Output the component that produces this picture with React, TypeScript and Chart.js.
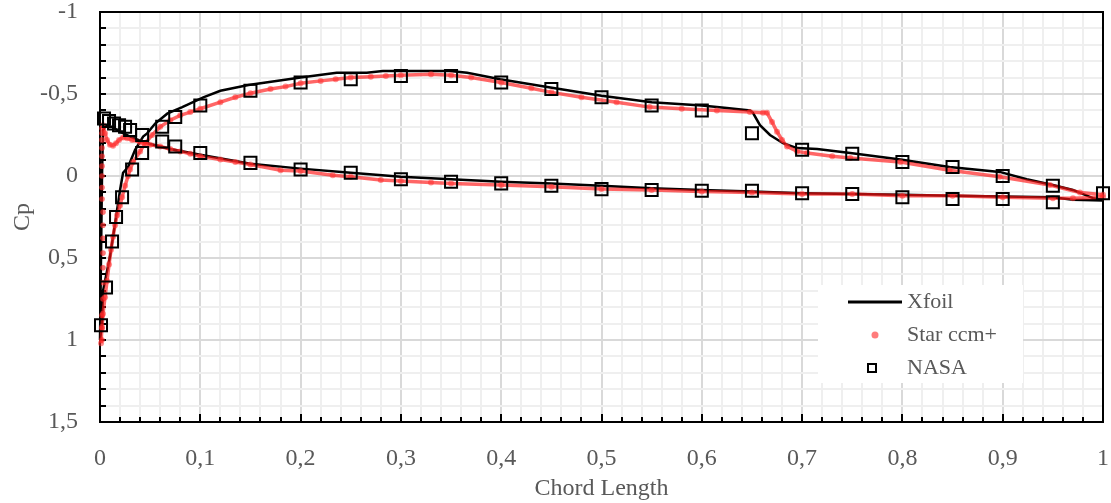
import React, { useEffect, useRef } from 'react';
import { Chart, registerables } from 'chart.js';

Chart.register(...registerables);

// ---------- Data ----------
// Xfoil upper branch (stagnation -> suction side -> TE)
const xfoilUpperX = [0.0, 0.002, 0.003, 0.010, 0.015, 0.020, 0.023, 0.028, 0.035, 0.043, 0.047, 0.055, 0.067, 0.082, 0.103, 0.120, 0.148, 0.200, 0.236, 0.266, 0.282, 0.349, 0.366, 0.399, 0.449, 0.500, 0.550, 0.600, 0.625, 0.648, 0.651, 0.658, 0.668, 0.681, 0.695, 0.715, 0.748, 0.798, 0.847, 0.897, 0.924, 0.950, 0.970, 0.990, 1.0];
const xfoilUpperCp = [1.0, 0.90, 0.70, 0.49, 0.29, 0.085, -0.02, -0.055, -0.16, -0.24, -0.26, -0.32, -0.38, -0.42, -0.48, -0.52, -0.555, -0.60, -0.63, -0.63, -0.64, -0.64, -0.63, -0.59, -0.54, -0.49, -0.45, -0.43, -0.415, -0.40, -0.385, -0.31, -0.25, -0.20, -0.17, -0.165, -0.14, -0.10, -0.055, -0.025, 0.02, 0.055, 0.085, 0.135, 0.146];
// Xfoil lower branch (stagnation -> pressure side -> TE)
const xfoilLowerX = [0.0, 0.001, 0.002, 0.003, 0.006, 0.012, 0.020, 0.030, 0.040, 0.050, 0.070, 0.100, 0.150, 0.200, 0.250, 0.300, 0.350, 0.400, 0.450, 0.500, 0.550, 0.600, 0.650, 0.700, 0.750, 0.800, 0.850, 0.900, 0.950, 0.970, 1.0];
const xfoilLowerCp = [1.0, 0.5, 0.0, -0.28, -0.31, -0.30, -0.27, -0.24, -0.215, -0.195, -0.165, -0.13, -0.075, -0.045, -0.02, 0.005, 0.02, 0.035, 0.045, 0.06, 0.075, 0.085, 0.095, 0.105, 0.11, 0.115, 0.12, 0.125, 0.13, 0.145, 0.15];

// Star ccm+ suction branch
const starUpperX = [0.001, 0.002, 0.003, 0.005, 0.007, 0.009, 0.011, 0.013, 0.015, 0.017, 0.020, 0.022, 0.025, 0.028, 0.030, 0.033, 0.040, 0.045, 0.052, 0.060, 0.070, 0.080, 0.090, 0.100, 0.120, 0.135, 0.150, 0.170, 0.185, 0.200, 0.220, 0.235, 0.250, 0.270, 0.285, 0.300, 0.330, 0.350, 0.370, 0.400, 0.430, 0.450, 0.480, 0.515, 0.548, 0.580, 0.615, 0.648, 0.661, 0.665, 0.670, 0.675, 0.680, 0.685, 0.695, 0.705, 0.730, 0.748, 0.798, 0.847, 0.897, 0.947, 0.977, 1.0];
const starUpperCp = [1.02, 0.92, 0.84, 0.74, 0.64, 0.54, 0.45, 0.37, 0.30, 0.24, 0.18, 0.13, 0.06, 0.0, -0.04, -0.085, -0.15, -0.20, -0.25, -0.30, -0.34, -0.37, -0.39, -0.41, -0.45, -0.48, -0.505, -0.53, -0.545, -0.565, -0.58, -0.59, -0.60, -0.605, -0.61, -0.615, -0.62, -0.615, -0.60, -0.57, -0.535, -0.51, -0.48, -0.45, -0.42, -0.41, -0.40, -0.39, -0.385, -0.385, -0.33, -0.27, -0.22, -0.18, -0.15, -0.14, -0.12, -0.11, -0.085, -0.035, 0.005, 0.055, 0.10, 0.115];
// Star ccm+ pressure branch
const starLowerX = [0.003, 0.005, 0.007, 0.010, 0.013, 0.016, 0.019, 0.023, 0.027, 0.032, 0.040, 0.050, 0.060, 0.070, 0.080, 0.090, 0.100, 0.120, 0.135, 0.150, 0.180, 0.200, 0.232, 0.250, 0.280, 0.300, 0.330, 0.350, 0.400, 0.450, 0.500, 0.550, 0.600, 0.650, 0.700, 0.750, 0.800, 0.850, 0.900, 0.950, 0.970, 1.0];
const starLowerCp = [-0.31, -0.26, -0.22, -0.19, -0.185, -0.20, -0.22, -0.235, -0.23, -0.22, -0.205, -0.19, -0.18, -0.165, -0.15, -0.135, -0.12, -0.10, -0.085, -0.07, -0.035, -0.03, -0.005, 0.005, 0.025, 0.03, 0.04, 0.045, 0.055, 0.065, 0.08, 0.085, 0.095, 0.10, 0.11, 0.11, 0.12, 0.12, 0.13, 0.135, 0.135, 0.13];
// Star ccm+ leading-edge cells (isolated dots)
const starLeX = [0.002, 0.002, 0.002, 0.003, 0.003, 0.003, 0.003, 0.003, 0.003, 0.003, 0.002, 0.002, 0.002, 0.002, 0.002, 0.002, 0.002, 0.002, 0.002];
const starLeCp = [1.0, 0.93, 0.85, 0.75, 0.65, 0.56, 0.47, 0.38, 0.30, 0.22, 0.14, 0.07, 0.0, -0.06, -0.12, -0.17, -0.22, -0.26, -0.29];

// NASA experiment
const nasaUpperX = [0.001, 0.006, 0.012, 0.016, 0.022, 0.032, 0.042, 0.062, 0.075, 0.10, 0.15, 0.20, 0.25, 0.30, 0.35, 0.40, 0.45, 0.50, 0.55, 0.60, 0.65, 0.70, 0.75, 0.80, 0.85, 0.90, 0.95, 1.0];
const nasaUpperCp = [0.91, 0.68, 0.40, 0.25, 0.13, -0.04, -0.14, -0.30, -0.36, -0.43, -0.52, -0.57, -0.59, -0.61, -0.61, -0.57, -0.53, -0.48, -0.43, -0.40, -0.26, -0.16, -0.135, -0.085, -0.055, 0.0, 0.06, 0.105];
const nasaLowerX = [0.004, 0.009, 0.014, 0.019, 0.025, 0.030, 0.042, 0.062, 0.075, 0.10, 0.15, 0.20, 0.25, 0.30, 0.35, 0.40, 0.45, 0.50, 0.55, 0.60, 0.65, 0.70, 0.75, 0.80, 0.85, 0.90, 0.95];
const nasaLowerCp = [-0.35, -0.335, -0.32, -0.31, -0.30, -0.28, -0.25, -0.21, -0.18, -0.14, -0.08, -0.04, -0.02, 0.02, 0.035, 0.045, 0.06, 0.08, 0.085, 0.09, 0.09, 0.105, 0.11, 0.13, 0.14, 0.14, 0.16];

// Tick labels
const xTickValues = [0, 0.1, 0.2, 0.3, 0.4, 0.5, 0.6, 0.7, 0.8, 0.9, 1];
const xTickLabels = ['0', '0,1', '0,2', '0,3', '0,4', '0,5', '0,6', '0,7', '0,8', '0,9', '1'];
const yTickValues = [-1, -0.5, 0, 0.5, 1, 1.5];
const yTickLabels = ['-1', '-0,5', '0', '0,5', '1', '1,5'];

const legendLabels = ['Xfoil', 'Star ccm+', 'NASA'];
const xTitle = 'Chord Length';
const yTitle = 'Cp';

// ---------- helpers ----------
const pts = (xs: number[], ys: number[]) => xs.map((x, i) => ({ x, y: ys[i] }));
const findLabel = (v: number, vals: number[], labels: string[]) => {
  const i = vals.findIndex((t) => Math.abs(t - v) < 1e-6);
  return i >= 0 ? labels[i] : '';
};
const isMultiple = (v: number, step: number) => {
  const r = v / step;
  return Math.abs(r - Math.round(r)) < 1e-6;
};

const FONT = "'Liberation Serif', 'Times New Roman', serif";
const GRAY = '#595959';
const RED_PT = 'rgba(255, 50, 50, 0.55)';
const RED_LN = 'rgba(255, 20, 20, 0.65)';

const decorPlugin = {
  id: 'decor',
  beforeDatasetsDraw(chart: any) {
    const { ctx, chartArea: a, scales } = chart;
    ctx.save();
    ctx.strokeStyle = '#000';
    ctx.lineWidth = 2;
    ctx.beginPath();
    scales.y.ticks.forEach((t: any) => {
      const y = Math.round(scales.y.getPixelForValue(t.value));
      ctx.moveTo(a.left, y);
      ctx.lineTo(a.left + 6, y);
    });
    scales.x.ticks.forEach((t: any) => {
      const x = Math.round(scales.x.getPixelForValue(t.value));
      const len = isMultiple(t.value, 0.1) ? 8 : 5;
      ctx.moveTo(x, a.bottom);
      ctx.lineTo(x, a.bottom - len);
    });
    ctx.stroke();
    ctx.strokeRect(a.left, a.top, a.right - a.left, a.bottom - a.top);
    ctx.restore();
  },
  afterDatasetsDraw(chart: any) {
    const { ctx } = chart;
    ctx.save();
    const lx = 818, ly = 285, lw = 205, lh = 98;
    ctx.fillStyle = '#ffffff';
    ctx.fillRect(lx, ly, lw, lh);
    const rows = [302, 335, 368];
    ctx.strokeStyle = '#000';
    ctx.lineWidth = 3;
    ctx.beginPath();
    ctx.moveTo(848, rows[0]);
    ctx.lineTo(902, rows[0]);
    ctx.stroke();
    ctx.fillStyle = 'rgba(255, 80, 80, 0.75)';
    ctx.beginPath();
    ctx.arc(875, rows[1], 3.5, 0, Math.PI * 2);
    ctx.fill();
    ctx.lineWidth = 2;
    ctx.strokeRect(868, rows[2] - 4, 8, 8);
    ctx.fillStyle = GRAY;
    ctx.font = `22px ${FONT}`;
    ctx.textBaseline = 'middle';
    ctx.textAlign = 'left';
    legendLabels.forEach((l, i) => ctx.fillText(l, 907, rows[i]));
    ctx.restore();
  },
};

export default function App() {
  const ref = useRef<HTMLCanvasElement | null>(null);

  useEffect(() => {
    if (!ref.current) return;
    const xfoilData = [...pts(xfoilUpperX, xfoilUpperCp).reverse(), ...pts(xfoilLowerX, xfoilLowerCp)];
    const starBase = {
      showLine: true,
      borderColor: RED_LN,
      borderWidth: 3.5,
      pointRadius: 3,
      pointBorderWidth: 0,
      pointBackgroundColor: RED_PT,
      tension: 0,
      clip: false,
      order: 2,
    };
    const chart = new Chart(ref.current, {
      type: 'scatter',
      data: {
        datasets: [
          {
            label: legendLabels[2],
            data: [...pts(nasaUpperX, nasaUpperCp), ...pts(nasaLowerX, nasaLowerCp)],
            pointStyle: 'rect',
            pointRadius: 8.5,
            pointBorderWidth: 2,
            pointBorderColor: '#000',
            pointBackgroundColor: 'rgba(0,0,0,0)',
            showLine: false,
            clip: false,
            order: 1,
          } as any,
          { ...starBase, label: legendLabels[1], data: pts(starUpperX, starUpperCp) } as any,
          { ...starBase, label: legendLabels[1] + ' lower', data: pts(starLowerX, starLowerCp) } as any,
          {
            label: legendLabels[1] + ' LE',
            data: pts(starLeX, starLeCp),
            showLine: false,
            pointRadius: 2.8,
            pointBorderWidth: 0,
            pointBackgroundColor: 'rgba(255, 40, 40, 0.65)',
            clip: false,
            order: 2,
          } as any,
          {
            label: legendLabels[0],
            data: xfoilData,
            showLine: true,
            borderColor: '#000',
            borderWidth: 2.5,
            pointRadius: 0,
            tension: 0,
            clip: false,
            order: 3,
          } as any,
        ],
      },
      options: {
        responsive: false,
        animation: false,
        devicePixelRatio: 1,
        layout: { autoPadding: false, padding: { top: 12, right: 8, left: 0, bottom: 0 } },
        plugins: { legend: { display: false }, tooltip: { enabled: false } },
        scales: {
          x: {
            type: 'linear',
            min: 0,
            max: 1,
            afterFit: (s: any) => { s.height = 81; s.paddingLeft = 0; s.paddingRight = 0; },
            border: { display: false },
            grid: {
              drawTicks: false,
              lineWidth: 2,
              color: (c: any) => (isMultiple(c.tick.value, 0.1) ? '#d9d9d9' : '#efefef'),
            },
            ticks: {
              stepSize: 0.02,
              autoSkip: false,
              maxRotation: 0,
              padding: 22,
              color: GRAY,
              font: { family: FONT, size: 24 },
              callback: (v: any) => findLabel(Number(v), xTickValues, xTickLabels),
            },
            title: {
              display: true,
              text: xTitle,
              color: GRAY,
              font: { family: FONT, size: 24 },
              padding: { top: 0, bottom: 0 },
            },
          },
          y: {
            type: 'linear',
            min: -1,
            max: 1.5,
            reverse: true,
            afterFit: (s: any) => { s.width = 100; s.paddingTop = 0; s.paddingBottom = 0; },
            border: { display: false },
            grid: {
              drawTicks: false,
              lineWidth: 2,
              color: (c: any) => (isMultiple(c.tick.value, 0.5) ? '#d9d9d9' : '#efefef'),
            },
            ticks: {
              stepSize: 0.1,
              autoSkip: false,
              padding: 22,
              color: GRAY,
              font: { family: FONT, size: 24 },
              callback: (v: any) => findLabel(Number(v), yTickValues, yTickLabels),
            },
            title: {
              display: true,
              text: yTitle,
              color: GRAY,
              font: { family: FONT, size: 24 },
              padding: { top: 8, bottom: 0 },
            },
          },
        },
      },
      plugins: [decorPlugin],
    });
    return () => chart.destroy();
  }, []);

  return (
    <div style={{ position: 'absolute', left: 0, top: 0, width: 1111, height: 503, background: '#fff' }}>
      <canvas ref={ref} width={1111} height={503} />
    </div>
  );
}
